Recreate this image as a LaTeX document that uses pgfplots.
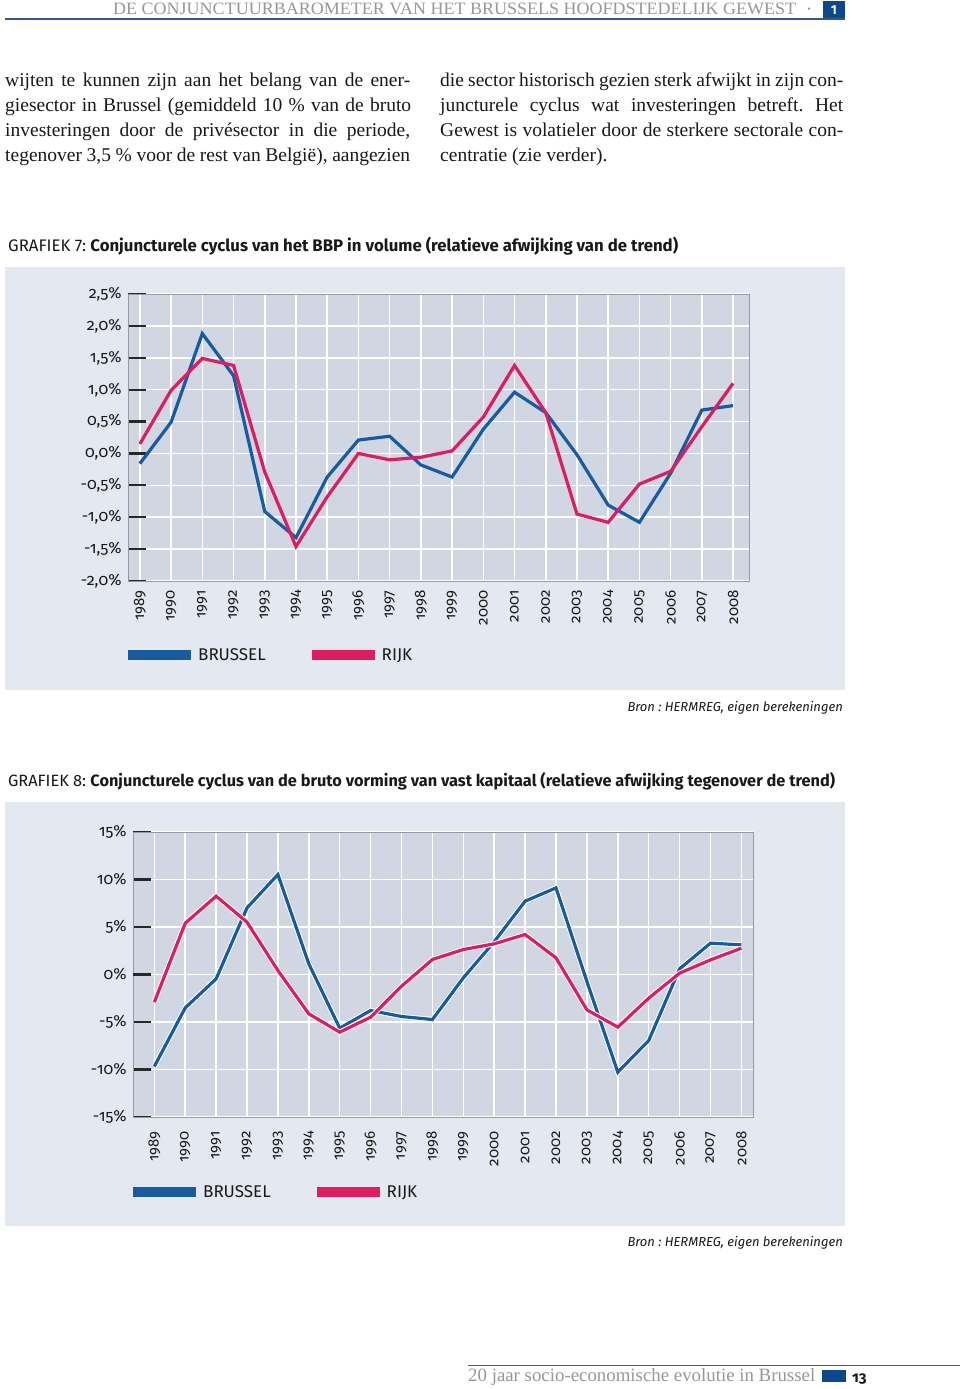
\documentclass[border=0pt]{standalone}
\usepackage{fontspec}
\usepackage{pgfplots}
\pgfplotsset{compat=1.18}
\setmainfont{Liberation Serif}
\newfontfamily\chartfont{Fira Sans}[Numbers=OldStyle]
\newfontfamily\chartlin{Fira Sans}
\definecolor{panelbg}{RGB}{228,232,240}
\definecolor{plotbg}{RGB}{208,214,226}
\definecolor{lblue}{RGB}{22,92,158}
\definecolor{lred}{RGB}{222,28,95}
\definecolor{headgray}{RGB}{150,152,156}
\definecolor{boxblue}{RGB}{12,72,140}
\definecolor{axisgray}{RGB}{150,155,162}
\definecolor{tickdark}{RGB}{40,40,40}
\definecolor{txt}{RGB}{25,25,25}
\newcommand\bl[2]{\makebox[#1][s]{#2}}
\frenchspacing
\pgfplotsset{
  mystyle/.style={
    scale only axis,
    axis background/.style={fill=plotbg},
    axis line style={draw=axisgray, line width=1pt},
    grid=major, major grid style={white, line width=1.5pt},
    tick align=inside, ytick pos=left, major tick length=18pt,
    ytick style={draw=tickdark, line width=2.2pt},
    xtick style={draw=none},
    xtick={1989,1990,1991,1992,1993,1994,1995,1996,1997,1998,1999,2000,2001,2002,2003,2004,2005,2006,2007,2008},
    xticklabels={1989,1990,1991,1992,1993,1994,1995,1996,1997,1998,1999,2000,2001,2002,2003,2004,2005,2006,2007,2008},
    yticklabel style={font=\chartfont\fontsize{16}{18}\selectfont, text=txt, anchor=east, xshift=-3pt},
    xticklabel style={font=\chartfont\fontsize{15}{17}\selectfont, text=txt, rotate=90, anchor=east},
    legend columns=2,
    legend image code/.code={\draw[#1, line width=10pt, line cap=butt] (0pt,0pt) -- (63pt,0pt);},
    legend style={draw=none, fill=none, inner sep=0pt, anchor=west, xshift=-5pt,
      font=\chartlin\fontsize{17}{20}\selectfont, text=txt,
      /tikz/every even column/.append style={column sep=39pt}},
  }
}
\begin{document}
\begin{tikzpicture}[x=1pt,y=1pt]
\useasboundingbox (0,0) rectangle (960,-1389);
\fill[white] (0,0) rectangle (960,-1389);
% header
\node[anchor=base west, inner sep=0, text=headgray] at (113,-15) {\resizebox{683pt}{11.5pt}{DE CONJUNCTUURBAROMETER VAN HET BRUSSELS HOOFDSTEDELIJK GEWEST}};
\node[text=headgray, inner sep=0] at (809,-10) {\fontsize{10}{10}\selectfont\textbullet};
\draw[boxblue!70!gray, line width=1.2pt] (5,-19) -- (845,-19);
\fill[boxblue] (823,-1) rectangle (845,-18);
\node[text=white, inner sep=0] at (834,-10) {\chartlin\bfseries\fontsize{13}{13}\selectfont 1};
% body text
\begin{scope}[every node/.style={anchor=base west, inner sep=0, text=txt, font=\fontsize{19.5}{25}\selectfont}]
\node at (5,-86) {\bl{405pt}{wijten te kunnen zijn aan het belang van de ener-}};
\node at (5,-111) {\bl{406pt}{giesector in Brussel (gemiddeld 10 \% van de bruto}};
\node at (5,-136) {\bl{405pt}{investeringen door de privésector in die periode,}};
\node at (5,-161) {\bl{405pt}{tegenover 3,5 \% voor de rest van België), aangezien}};
\node at (440,-86) {\bl{403pt}{die sector historisch gezien sterk afwijkt in zijn con-}};
\node at (440,-111) {\bl{403pt}{juncturele cyclus wat investeringen betreft. Het}};
\node at (440,-136) {\bl{403pt}{Gewest is volatieler door de sterkere sectorale con-}};
\node at (440,-161) {centratie (zie verder).};
\end{scope}
% ---------- chart 1
\node[anchor=base west, inner sep=0, text=txt] at (8,-251) {\resizebox{670pt}{!}{\chartlin\fontsize{17}{20}\selectfont GRAFIEK 7: \bfseries Conjuncturele cyclus van het BBP in volume (relatieve afwijking van de trend)}};
\fill[panelbg] (5,-267) rectangle (845,-690);
\begin{axis}[mystyle, at={(128pt,-581pt)}, anchor=south west, width=621pt, height=287pt,
  xmin=1988.62, xmax=2008.51, ymin=-2, ymax=2.5,
  ytick={-2,-1.5,-1,-0.5,0,0.5,1,1.5,2,2.5},
  yticklabels={{-2,0\%},{-1,5\%},{-1,0\%},{-0,5\%},{0,0\%},{0,5\%},{1,0\%},{1,5\%},{2,0\%},{2,5\%}},
  xticklabel style={xshift=-6pt},
  legend style={at={(0,-0.258)}}]
\addlegendimage{lblue}\addlegendentry{BRUSSEL}
\addlegendimage{lred}\addlegendentry{RIJK}
\addplot[lblue, line width=3.2pt, forget plot] coordinates {
(1989,-0.16) (1990,0.49) (1991,1.88) (1992,1.22) (1993,-0.91) (1994,-1.32) (1995,-0.37) (1996,0.21) (1997,0.27) (1998,-0.18)
(1999,-0.37) (2000,0.38) (2001,0.96) (2002,0.64) (2003,-0.02) (2004,-0.81) (2005,-1.08) (2006,-0.31) (2007,0.68) (2008,0.75)};
\addplot[lred, line width=3.2pt, forget plot] coordinates {
(1989,0.15) (1990,0.99) (1991,1.49) (1992,1.38) (1993,-0.29) (1994,-1.46) (1995,-0.68) (1996,0.00) (1997,-0.10) (1998,-0.06)
(1999,0.04) (2000,0.57) (2001,1.38) (2002,0.64) (2003,-0.95) (2004,-1.08) (2005,-0.48) (2006,-0.28) (2007,0.42) (2008,1.10)};
\end{axis}
\node[anchor=base east, inner sep=0, text=txt] at (843,-711) {\chartlin\itshape\fontsize{13}{16}\selectfont Bron : HERMREG, eigen berekeningen};
% ---------- chart 2
\node[anchor=base west, inner sep=0, text=txt] at (8,-786) {\resizebox{827pt}{!}{\chartlin\fontsize{17}{20}\selectfont GRAFIEK 8: \bfseries Conjuncturele cyclus van de bruto vorming van vast kapitaal (relatieve afwijking tegenover de trend)}};
\fill[panelbg] (5,-802) rectangle (845,-1226);
\begin{axis}[mystyle, at={(133pt,-1117pt)}, anchor=south west, width=620pt, height=285pt,
  xmin=1988.31, xmax=2008.375, ymin=-15, ymax=15,
  ytick={-15,-10,-5,0,5,10,15},
  yticklabels={{-15\%},{-10\%},{-5\%},{0\%},{5\%},{10\%},{15\%}},
  extra y ticks={0}, extra y tick labels={},
  extra y tick style={grid style={draw=axisgray, line width=1.2pt}},
  xticklabel style={xshift=-11pt},
  legend style={at={(0,-0.263)}}]
\addlegendimage{lblue}\addlegendentry{BRUSSEL}
\addlegendimage{lred}\addlegendentry{RIJK}
\addplot[lblue, line width=3.2pt, forget plot, preaction={draw=white, line width=5.2pt}] coordinates {
(1989,-9.68) (1990,-3.51) (1991,-0.46) (1992,7.02) (1993,10.53) (1994,1.12) (1995,-5.65) (1996,-3.79) (1997,-4.42) (1998,-4.74)
(1999,-0.35) (2000,3.45) (2001,7.72) (2002,9.12) (2003,-0.74) (2004,-10.28) (2005,-6.95) (2006,0.6) (2007,3.3) (2008,3.12)};
\addplot[lred, line width=3.2pt, forget plot, preaction={draw=white, line width=5.2pt}] coordinates {
(1989,-2.91) (1990,5.4) (1991,8.25) (1992,5.51) (1993,0.42) (1994,-4.14) (1995,-6.07) (1996,-4.49) (1997,-1.23) (1998,1.58)
(1999,2.63) (2000,3.23) (2001,4.21) (2002,1.75) (2003,-3.72) (2004,-5.54) (2005,-2.49) (2006,0.14) (2007,1.54) (2008,2.77)};
\end{axis}
\node[anchor=base east, inner sep=0, text=txt] at (843,-1246) {\chartlin\itshape\fontsize{13}{16}\selectfont Bron : HERMREG, eigen berekeningen};
% footer
\draw[gray!70!black, line width=1pt] (468,-1365) -- (960,-1365);
\node[anchor=base west, inner sep=0, text=headgray] at (468,-1381) {\resizebox{347pt}{!}{\fontsize{18}{20}\selectfont 20 jaar socio-economische evolutie in Brussel}};
\fill[boxblue] (822,-1370) rectangle (846,-1382);
\node[anchor=base west, inner sep=0, text=txt] at (852,-1382) {\chartfont\bfseries\fontsize{15}{15}\selectfont 13};
\end{tikzpicture}
\end{document}
